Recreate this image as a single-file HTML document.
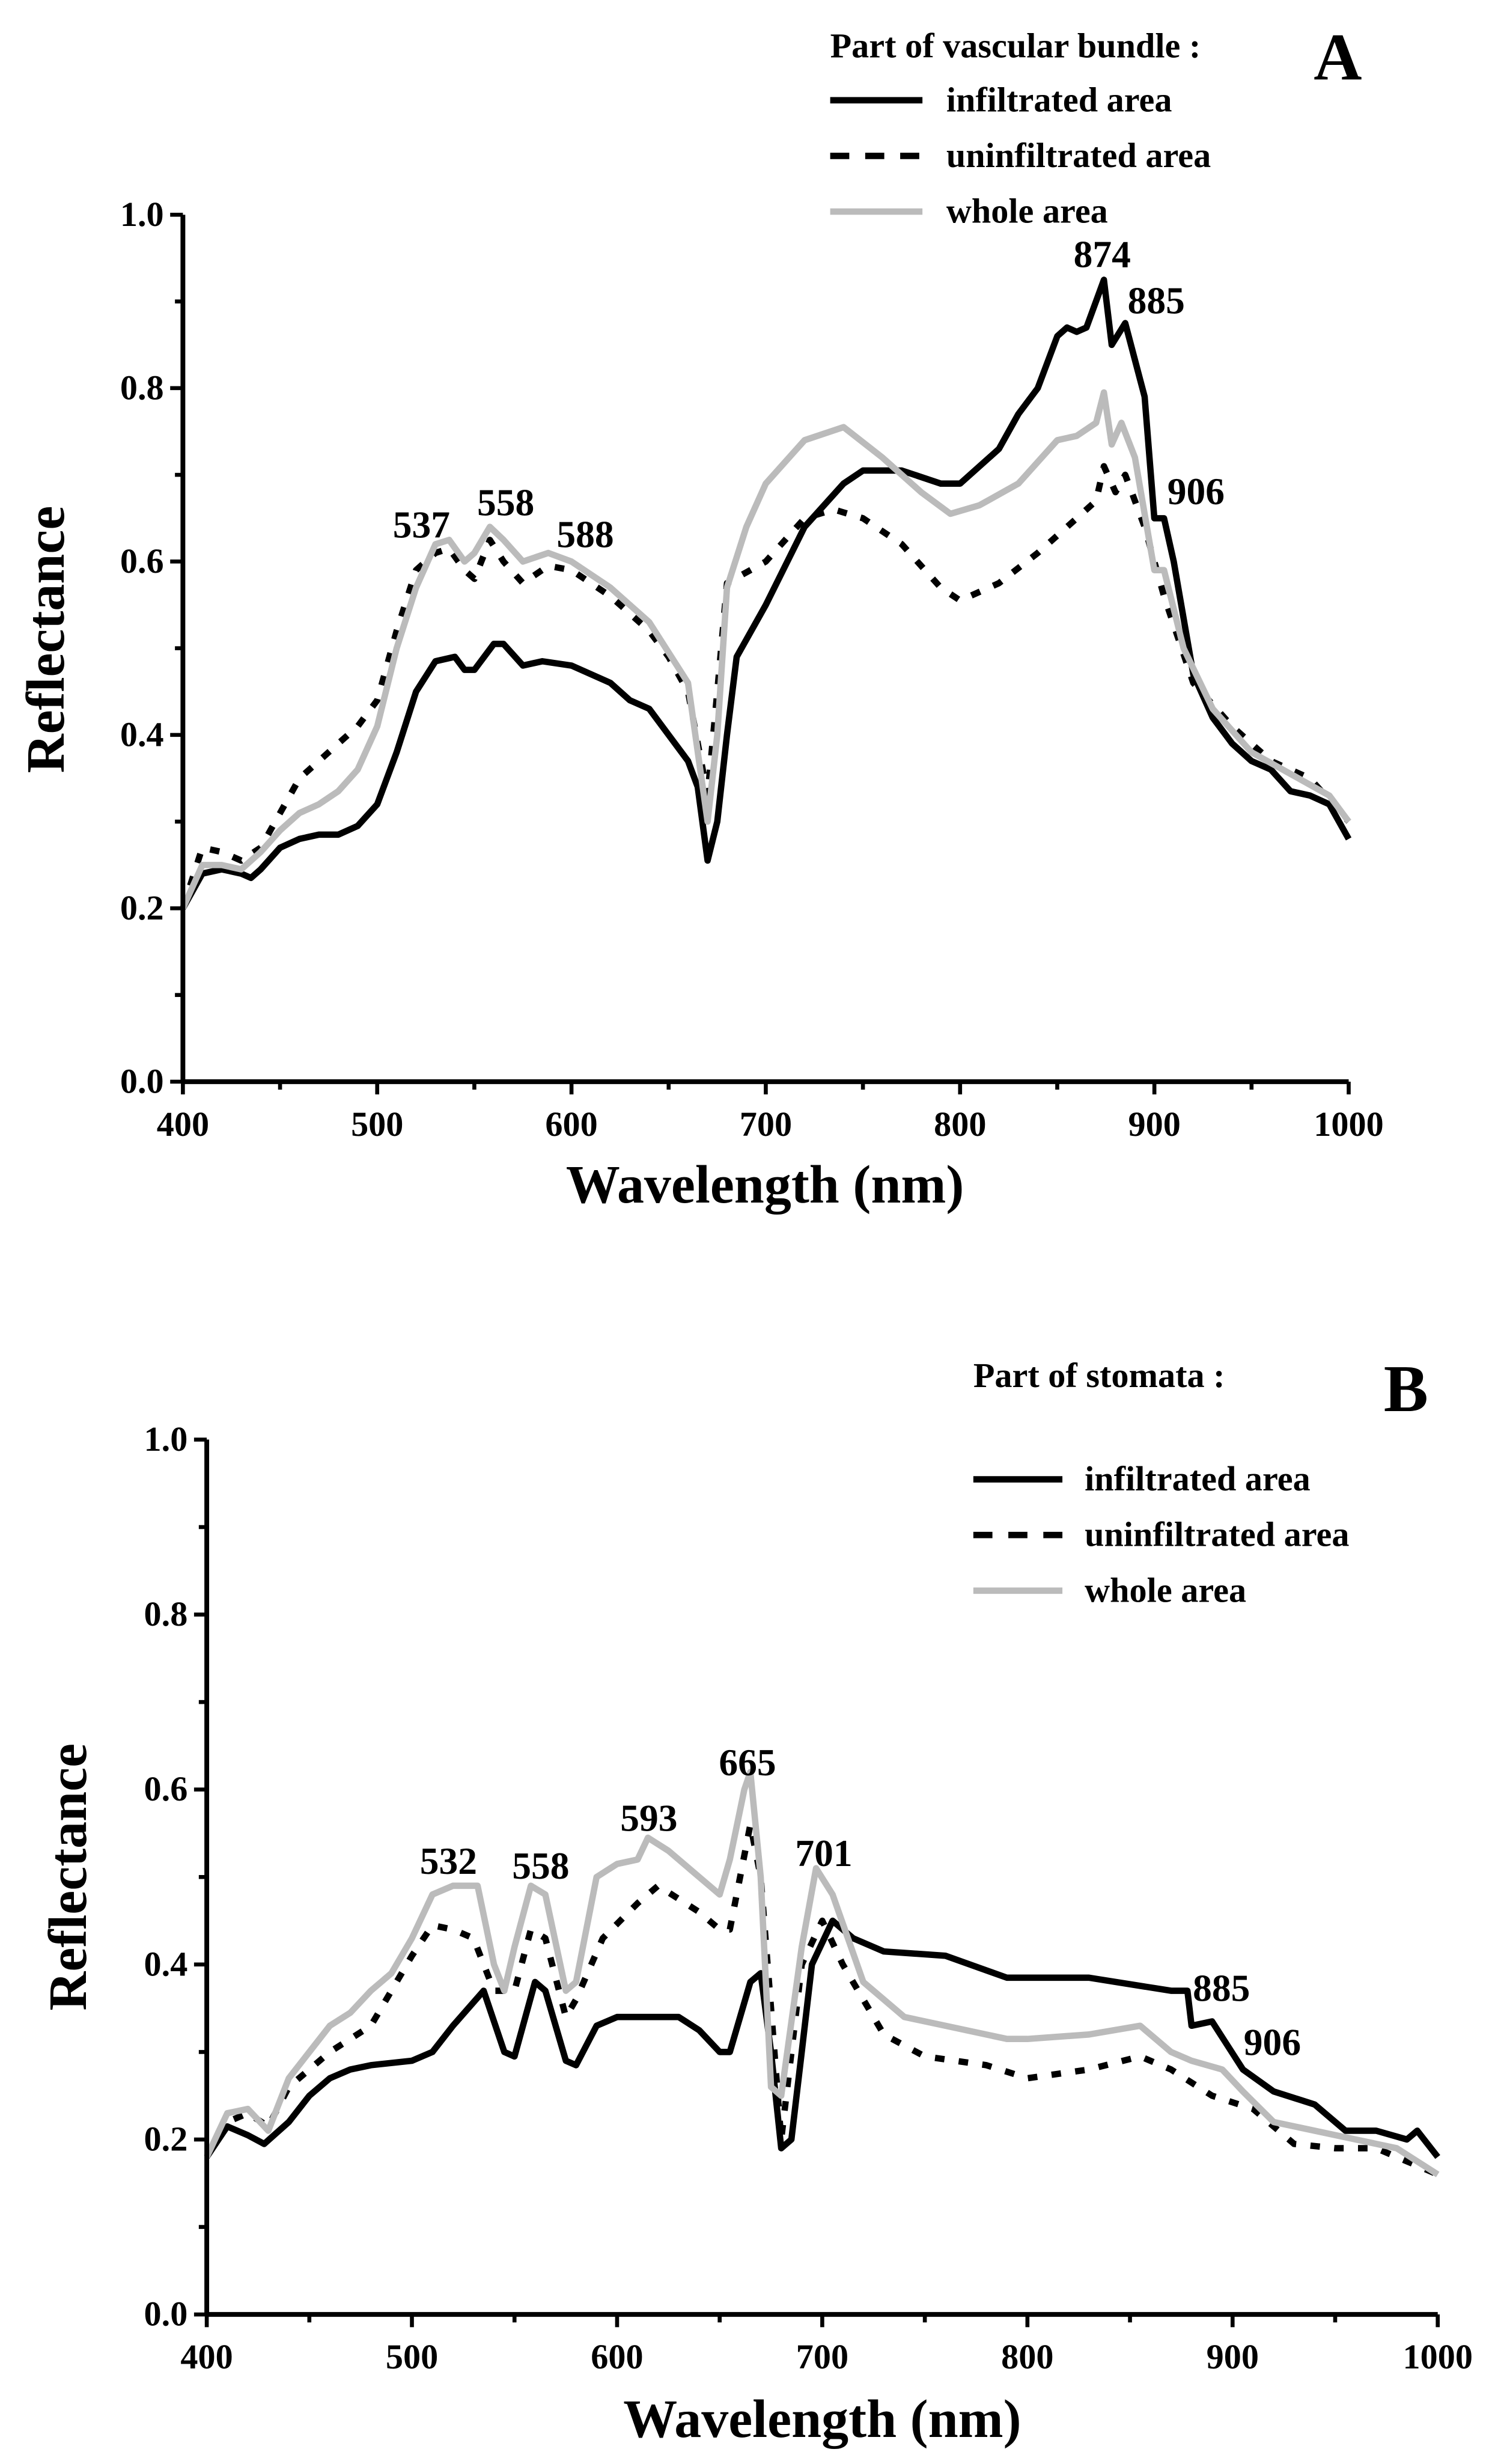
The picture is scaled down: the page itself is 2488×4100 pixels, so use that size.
<!DOCTYPE html>
<html><head><meta charset="utf-8"><style>
html,body{margin:0;padding:0;background:#fff;}
svg{display:block;}
text{font-family:"Liberation Serif",serif;font-weight:bold;fill:#000;}
</style></head><body>
<svg id="s" width="2488" height="4100" viewBox="0 0 940 1549" xmlns="http://www.w3.org/2000/svg">
<g id="g"></g>
<text x="522" y="36" font-size="22">Part of vascular bundle :</text>
<text x="826" y="50" font-size="42">A</text>
<line x1="522" y1="63" x2="580" y2="63" stroke="#000" stroke-width="4"/>
<line x1="522" y1="98" x2="580" y2="98" stroke="#000" stroke-width="4" stroke-dasharray="12,10"/>
<line x1="522" y1="133" x2="580" y2="133" stroke="#bbb" stroke-width="4"/>
<text x="595" y="70" font-size="22">infiltrated area</text>
<text x="595" y="105" font-size="22">uninfiltrated area</text>
<text x="595" y="140" font-size="22">whole area</text>
<text x="612" y="872" font-size="22">Part of stomata :</text>
<text x="870" y="887" font-size="42">B</text>
<line x1="612" y1="930" x2="668" y2="930" stroke="#000" stroke-width="4"/>
<line x1="612" y1="965" x2="668" y2="965" stroke="#000" stroke-width="4" stroke-dasharray="12,10"/>
<line x1="612" y1="1000" x2="668" y2="1000" stroke="#bbb" stroke-width="4"/>
<text x="682" y="937" font-size="22">infiltrated area</text>
<text x="682" y="972" font-size="22">uninfiltrated area</text>
<text x="682" y="1007" font-size="22">whole area</text>
<g font-size="24" text-anchor="middle">
<text x="265" y="338">537</text><text x="318" y="324">558</text><text x="368" y="344">588</text>
<text x="693" y="168">874</text><text x="727" y="197">885</text><text x="752" y="317">906</text>
<text x="282" y="1178">532</text><text x="340" y="1181">558</text><text x="408" y="1151">593</text>
<text x="470" y="1116">665</text><text x="518" y="1173">701</text><text x="768" y="1258">885</text><text x="800" y="1292">906</text>
</g>
<text x="481" y="756" font-size="34" text-anchor="middle">Wavelength (nm)</text>
<text x="0" y="0" font-size="34" text-anchor="middle" transform="translate(40,402) rotate(-90)">Reflectance</text>
<text x="517" y="1532" font-size="34" text-anchor="middle">Wavelength (nm)</text>
<text x="0" y="0" font-size="34" text-anchor="middle" transform="translate(54,1180) rotate(-90)">Reflectance</text>
</svg>
<script>
var NS="http://www.w3.org/2000/svg",g=document.getElementById("g");
function el(t,a,txt){var e=document.createElementNS(NS,t);for(var k in a)e.setAttribute(k,a[k]);if(txt)e.textContent=txt;g.appendChild(e);return e;}
function panel(P,series){
  var X=function(w){return P.x0+(w-400)/600*(P.x1-P.x0)},Y=function(r){return P.y0-r*(P.y0-P.y1)};
  series.forEach(function(s){
    var d="";for(var i=0;i<s.d.length;i+=2)d+=(i?"L":"M")+X(s.d[i]).toFixed(1)+","+Y(s.d[i+1]).toFixed(1);
    var a={d:d,fill:"none",stroke:s.c,"stroke-width":4,"stroke-linejoin":"round"};
    if(s.dash)a["stroke-dasharray"]=s.dash;el("path",a);
  });
  el("line",{x1:P.x0,y1:P.y0,x2:P.x1,y2:P.y0,stroke:"#000","stroke-width":3});
  el("line",{x1:P.x0,y1:P.y0,x2:P.x0,y2:P.y1,stroke:"#000","stroke-width":3});
  for(var w=400;w<=1000;w+=50){var x=X(w),maj=w%100==0;
    el("line",{x1:x,y1:P.y0,x2:x,y2:P.y0+(maj?8:5),stroke:"#000","stroke-width":2.5});
    if(maj)el("text",{x:x,y:P.y0+34,"font-size":22,"text-anchor":"middle"},String(w));}
  for(var i=0;i<=10;i++){var r=i/10,y=Y(r),maj=i%2==0;
    el("line",{x1:P.x0,y1:y,x2:P.x0-(maj?8:5),y2:y,stroke:"#000","stroke-width":2.5});
    if(maj)el("text",{x:P.x0-12,y:y+7,"font-size":22,"text-anchor":"end"},r.toFixed(1));}
}
panel({x0:115,x1:848,y0:680,y1:135},[
{c:"#000",dash:"6,9",d:[400,.20,410,.27,420,.265,430,.255,440,.27,450,.31,460,.35,470,.37,480,.39,490,.41,500,.44,510,.52,520,.59,530,.61,537,.615,545,.59,550,.58,558,.625,565,.60,575,.575,588,.595,600,.59,620,.56,640,.52,650,.49,660,.45,670,.33,675,.45,680,.575,700,.60,720,.65,735,.66,750,.65,770,.62,790,.57,800,.555,820,.575,840,.61,860,.65,870,.67,874,.71,880,.68,885,.70,895,.64,905,.56,920,.46,940,.41,960,.37,980,.35,1000,.30]},
{c:"#000",d:[400,.20,410,.24,420,.245,430,.24,435,.235,440,.245,450,.27,460,.28,470,.285,480,.285,490,.295,500,.32,510,.38,520,.45,530,.485,540,.49,545,.475,550,.475,560,.505,565,.505,575,.48,585,.485,600,.48,620,.46,630,.44,640,.43,650,.40,660,.37,665,.34,670,.255,675,.30,680,.40,685,.49,700,.55,720,.64,740,.69,750,.705,770,.705,790,.69,800,.69,810,.71,820,.73,830,.77,840,.80,850,.86,855,.87,860,.865,865,.87,874,.925,878,.85,885,.875,895,.79,900,.65,905,.65,910,.60,920,.47,930,.42,940,.39,950,.37,960,.36,970,.335,980,.33,990,.32,1000,.28]},
{c:"#bbb",d:[400,.20,410,.25,420,.25,430,.245,440,.265,450,.29,460,.31,470,.32,480,.335,490,.36,500,.41,510,.50,520,.57,530,.62,537,.625,545,.60,550,.61,558,.64,565,.625,575,.60,588,.61,600,.60,620,.57,640,.53,660,.46,670,.30,675,.40,680,.57,690,.64,700,.69,720,.74,740,.755,760,.72,780,.68,795,.655,810,.665,830,.69,850,.74,860,.745,870,.76,874,.795,878,.735,883,.76,890,.72,900,.59,905,.59,915,.50,930,.43,950,.38,970,.355,990,.33,1000,.30]}
]);
panel({x0:130,x1:904,y0:1455,y1:905},[
{c:"#000",dash:"6,9",d:[400,.18,410,.22,420,.23,430,.215,440,.26,460,.30,480,.33,500,.41,510,.445,520,.44,530,.43,540,.37,550,.37,558,.44,565,.43,575,.34,580,.36,593,.43,610,.47,620,.49,640,.46,650,.44,655,.44,665,.56,670,.50,675,.35,680,.20,690,.40,700,.45,710,.40,730,.32,750,.295,780,.285,800,.27,830,.28,855,.295,870,.28,890,.25,910,.235,930,.195,950,.19,970,.19,990,.17,1000,.16]},
{c:"#000",d:[400,.18,410,.215,420,.205,428,.195,440,.22,450,.25,460,.27,470,.28,480,.285,500,.29,510,.30,520,.33,535,.37,545,.30,550,.295,560,.38,565,.37,575,.29,580,.285,590,.33,600,.34,630,.34,640,.325,650,.30,655,.30,665,.38,670,.39,675,.30,680,.19,685,.20,690,.30,695,.40,705,.45,715,.43,730,.415,760,.41,790,.385,830,.385,870,.37,878,.37,880,.33,890,.335,905,.28,920,.255,940,.24,955,.21,970,.21,985,.20,990,.21,1000,.18]},
{c:"#bbb",d:[400,.18,410,.23,420,.235,430,.21,440,.27,450,.30,460,.33,470,.345,480,.37,490,.39,500,.43,510,.48,520,.49,532,.49,540,.40,545,.37,550,.42,558,.49,565,.48,575,.37,580,.38,590,.50,600,.515,610,.52,615,.545,625,.53,640,.50,650,.48,655,.52,662,.60,665,.62,670,.50,675,.26,680,.25,690,.42,697,.51,705,.48,720,.38,740,.34,760,.33,790,.315,800,.315,830,.32,855,.33,870,.30,880,.29,895,.28,905,.255,920,.22,940,.21,960,.20,980,.19,1000,.16]}
]);
</script>
</body></html>
